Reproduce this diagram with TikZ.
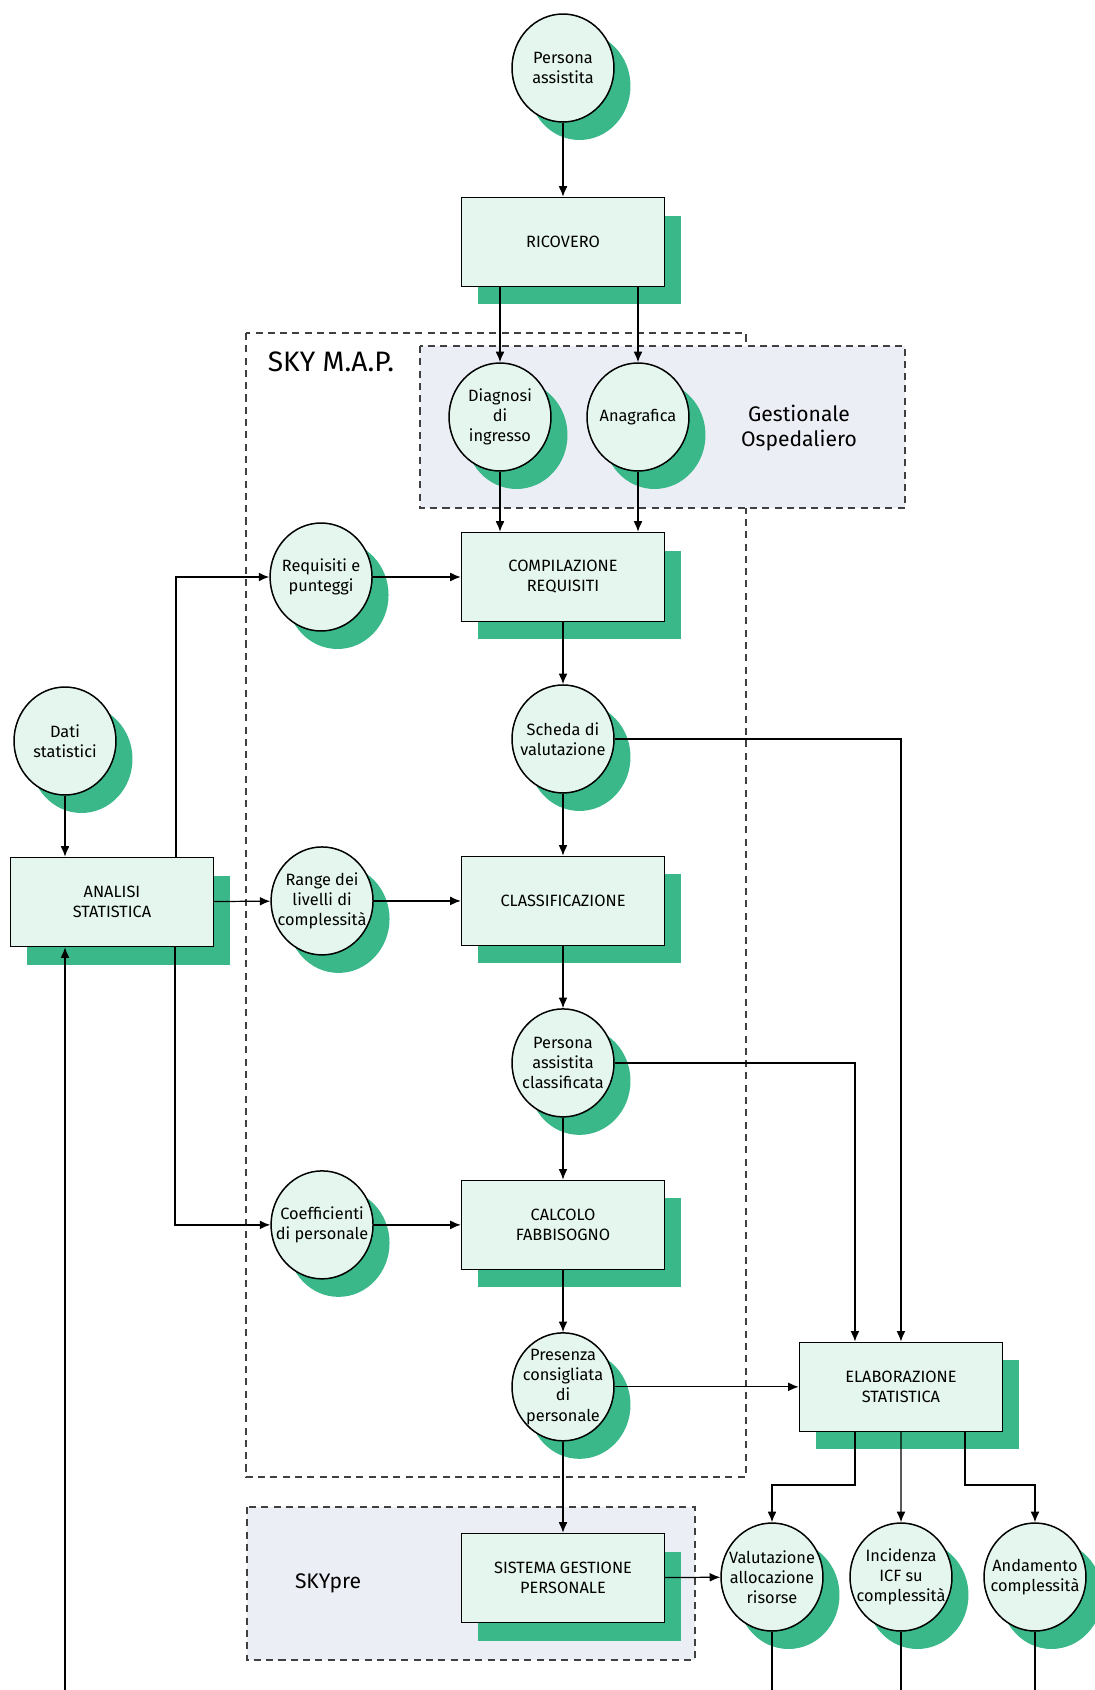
\documentclass[tikz,border=0pt]{standalone}
\usepackage{fontspec}
\setmainfont{Fira Sans}
\usetikzlibrary{shapes.geometric, arrows.meta, positioning, shadows}

\definecolor{mint}{RGB}{228,246,238}
\definecolor{shadowgreen}{RGB}{58,184,138}
\definecolor{areagray}{RGB}{236,238,245}

\begin{document}
\begin{tikzpicture}[x=0.02cm, y=-0.02cm, node distance=3.24cm, font=\fontsize{9.3}{11.5}\selectfont, align=center]

    % Define block styles
    \tikzstyle{greenshadow} = [drop shadow={shadow xshift=0.33cm, shadow yshift=-0.36cm, opacity=1, fill=shadowgreen}]
    \tikzstyle{process} = [rectangle, minimum width=4.06cm, minimum height=1.78cm, text centered, draw=black, line width=0.85pt, fill=mint, greenshadow]
    \tikzstyle{data} = [ellipse, minimum width=2.04cm, minimum height=2.16cm, inner sep=-7pt, text centered, draw=black, line width=0.85pt, fill=mint, greenshadow]
    \tikzstyle{area} = [draw=black!75, line width=0.8pt, dash pattern=on 4pt off 3pt]
    \tikzstyle{arrow} = [line width=0.7pt, -{Latex[length=6pt, width=5pt]}]
    \tikzstyle{line} = [line width=0.7pt]

    \useasboundingbox (0,0) rectangle (1095,1690);
    \coordinate (edge) at (0,1690);

    % Dashed areas
    \draw [area] (246,333) rectangle (746,1477);
    \draw [area, fill=areagray] (420,346) rectangle (905,508);
    \draw [area, fill=areagray] (247,1507) rectangle (695,1660);
    \node (skymap) [font=\fontsize{16}{18}\selectfont] at (331,362) {SKY M.A.P.};
    \node (gestionale) [font=\fontsize{12}{14.5}\selectfont] at (799,428) {Gestionale\\Ospedaliero};
    \node (skypre) [font=\fontsize{12}{14.5}\selectfont] at (328,1583) {SKYpre};

    % Place nodes
    \node (persona) [data] at (563,68) {Persona\\assistita};
    \node (ricovero) [process] at (563,242) {RICOVERO};
    \node (diagnosi) [data] at (500,417) {Diagnosi\\di\\ingresso};
    \node (anagrafica) [data] at (638,417) {Anagrafica};
    \node (compilazione) [process] at (563,577) {COMPILAZIONE\\REQUISITI};
    \node (requisiti) [data, left of=compilazione, node distance=4.84cm] {Requisiti e\\punteggi};
    \node (scheda) [data, below of=compilazione] {Scheda di\\valutazione};
    \node (classificazione) [process, below of=scheda] {CLASSIFICAZIONE};
    \node (range) [data, left of=classificazione, node distance=4.82cm] {Range dei\\livelli di\\complessità};
    \node (classificata) [data, below of=classificazione] {Persona\\assistita\\classificata};
    \node (calcolo) [process, below of=classificata] {CALCOLO\\FABBISOGNO};
    \node (coefficienti) [data, left of=calcolo, node distance=4.82cm] {Coefficienti\\di personale};
    \node (presenza) [data, below of=calcolo] {Presenza\\consigliata\\di\\personale};
    \node (elaborazione) [process, right of=presenza, node distance=6.76cm] {ELABORAZIONE\\STATISTICA};
    \node (sistema) [process] at (563,1578) {SISTEMA GESTIONE\\PERSONALE};
    \node (dati) [data] at (65,741) {Dati\\statistici};
    \node (analisi) [process] at (112,902) {ANALISI\\STATISTICA};
    \node (valutazione) [data] at (772,1577) {Valutazione\\allocazione\\risorse};
    \node (incidenza) [data] at (901,1577) {Incidenza\\ICF su\\complessità};
    \node (andamento) [data] at (1035,1577) {Andamento\\complessità};

    % Draw arrows
    \draw [arrow] (persona) -- (ricovero);
    \draw [arrow] (ricovero.south -| diagnosi) -- (diagnosi);
    \draw [arrow] (ricovero.south -| anagrafica) -- (anagrafica);
    \draw [arrow] (diagnosi) -- (diagnosi |- compilazione.north);
    \draw [arrow] (anagrafica) -- (anagrafica |- compilazione.north);
    \draw [arrow] (requisiti) -- (compilazione);
    \draw [arrow] (compilazione) -- (scheda);
    \draw [arrow] (scheda) -- (classificazione);
    \draw [arrow] (range) -- (classificazione);
    \draw [arrow] (classificazione) -- (classificata);
    \draw [arrow] (classificata) -- (calcolo);
    \draw [arrow] (coefficienti) -- (calcolo);
    \draw [arrow] (calcolo) -- (presenza);
    \draw [arrow] (presenza) -- (sistema);
    \draw [arrow] (presenza) -- (elaborazione);
    \draw [arrow] (sistema) -- (valutazione);
    \draw [arrow] (dati) -- (dati |- analisi.north);
    \draw [arrow] (analisi) -- (range);
    \draw [arrow] ([xshift=1.28cm]analisi.north) |- (requisiti);
    \draw [arrow] ([xshift=1.26cm]analisi.south) |- (coefficienti);
    \draw [arrow] (scheda) -| (elaborazione);
    \draw [arrow] (classificata) -| ([xshift=-0.92cm]elaborazione.north);
    \draw [arrow] ([xshift=-0.92cm]elaborazione.south) -- ++(0,53) -| (valutazione);
    \draw [arrow] (elaborazione) -- (incidenza);
    \draw [arrow] ([xshift=1.28cm]elaborazione.south) -- ++(0,53) -| (andamento);

    % Lines leaving the page
    \draw [line] (valutazione) -- (valutazione |- edge);
    \draw [line] (incidenza) -- (incidenza |- edge);
    \draw [line] (andamento) -- (andamento |- edge);
    \draw [arrow] (dati |- edge) -- (dati |- analisi.south);

\end{tikzpicture}
\end{document}
